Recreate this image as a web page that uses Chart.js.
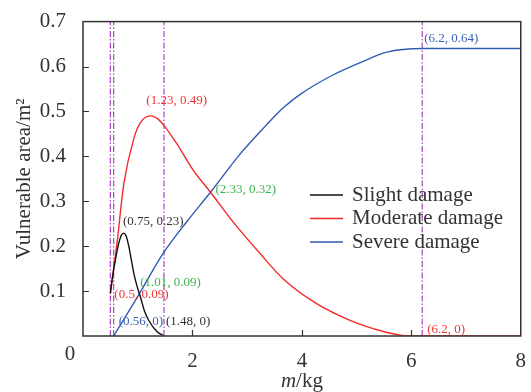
<!DOCTYPE html>
<html>
<head>
<meta charset="utf-8">
<script src="https://cdn.jsdelivr.net/npm/chart.js@4.4.1/dist/chart.umd.min.js"></script>
<style>
  html, body { margin: 0; padding: 0; background: #fff; }
  #wrap { width: 531px; height: 392px; }
</style>
</head>
<body>
<div id="wrap"><canvas id="damageChart" width="531" height="392"></canvas></div>
<script>
// values
const slightX = [0.5, 0.55, 0.59, 0.65, 0.7, 0.745, 0.79, 0.84, 0.93, 0.99, 1.05, 1.12, 1.2, 1.35, 1.48];
const slightY = [0.095, 0.14, 0.168, 0.205, 0.224, 0.229, 0.222, 0.198, 0.139, 0.11, 0.087, 0.057, 0.035, 0.01, 0];

const moderateX = [0.5, 0.62, 0.745, 0.93, 1.05, 1.23, 1.35, 1.47, 1.72, 2.02, 2.33, 2.75, 3.24, 3.66, 4.27, 4.88, 5.49, 5.8, 6.2, 8];
const moderateY = [0.095, 0.205, 0.338, 0.44, 0.475, 0.49, 0.485, 0.47, 0.427, 0.368, 0.32, 0.253, 0.183, 0.127, 0.072, 0.035, 0.01, 0.002, 0, 0];

const severeX = [0.56, 1.01, 1.47, 1.9, 2.33, 2.87, 3.36, 3.66, 3.97, 4.55, 5.19, 5.55, 6.2, 8];
const severeY = [0, 0.09, 0.185, 0.255, 0.32, 0.405, 0.471, 0.508, 0.538, 0.58, 0.615, 0.632, 0.64, 0.64];

const markX = [0.5, 0.56, 1.48, 6.2];   // dash-dot guide lines

const xTicks = [0, 2, 4, 6, 8];
const yTicks = [0, 0.1, 0.2, 0.3, 0.4, 0.5, 0.6, 0.7];

// point labels: [x, y, text, colour, dx, dy]
const notes = [
    [1.23, 0.49, '(1.23, 0.49)', '#ee3535', -4, -15],
    [0.75, 0.23, '(0.75, 0.23)', '#333333', -1, -11],
    [1.01, 0.09, '(1.01, 0.09)', '#3cb54e', 2, -13],
    [0.5, 0.09, '(0.5, 0.09)', '#ee3535', 4, -1],
    [0.56, 0, '(0.56, 0)', '#3a62b4', 5, -14],
    [1.48, 0, '(1.48, 0)', '#333333', 2, -14],
    [2.33, 0.32, '(2.33, 0.32)', '#3cb54e', 5, -3],
    [6.2, 0.64, '(6.2, 0.64)', '#3a62b4', 2, -10],
    [6.2, 0, '(6.2, 0)', '#ee3535', 5, -6]
];

const SERIF = '"Liberation Serif", "Times New Roman", serif';
const AXIS = '#333333';

const toPts = (xs, ys) => xs.map((x, i) => ({ x: x, y: ys[i] }));

const curve = (label, xs, ys, color) => ({
    label: label,
    data: toPts(xs, ys),
    borderColor: color,
    backgroundColor: color,
    borderWidth: 1.4,
    showLine: true,
    pointRadius: 0,
    cubicInterpolationMode: 'monotone',
    isCurve: true
});

const datasets = [
    curve('Slight damage', slightX, slightY, '#111111'),
    curve('Moderate damage', moderateX, moderateY, '#f22a2a'),
    curve('Severe damage', severeX, severeY, '#2f5bb5')
];

markX.forEach(x => {
    datasets.push({
        data: [{ x: x, y: 0 }, { x: x, y: 0.7 }],
        borderColor: '#b24fc4',
        borderWidth: 1.3,
        borderDash: [6, 2, 1.5, 2],
        showLine: true,
        pointRadius: 0
    });
});

// frame, inward ticks, corner "0", x title, labels and legend
const decorations = {
    id: 'decorations',
    afterDatasetsDraw(chart) {
        const ctx = chart.ctx;
        const a = chart.chartArea;
        const xs = chart.scales.x, ys = chart.scales.y;
        ctx.save();

        ctx.strokeStyle = AXIS;
        ctx.lineWidth = 1.5;
        ctx.strokeRect(a.left, a.top, a.right - a.left, a.bottom - a.top);

        ctx.lineWidth = 1.2;
        ctx.beginPath();
        xTicks.slice(1, -1).forEach(v => {
            const px = Math.round(xs.getPixelForValue(v)) + 0.5;
            ctx.moveTo(px, a.bottom);
            ctx.lineTo(px, a.bottom - 6);
        });
        yTicks.slice(1, -1).forEach(v => {
            const py = Math.round(ys.getPixelForValue(v)) + 0.5;
            ctx.moveTo(a.left, py);
            ctx.lineTo(a.left + 6, py);
        });
        ctx.stroke();

        ctx.fillStyle = AXIS;
        ctx.font = '21px ' + SERIF;
        ctx.textAlign = 'center';
        ctx.textBaseline = 'middle';
        ctx.fillText('0', a.left - 13, a.bottom + 18);

        // x title: italic m + /kg
        ctx.font = 'italic 21px ' + SERIF;
        const wm = ctx.measureText('m').width;
        ctx.font = '21px ' + SERIF;
        const wk = ctx.measureText('/kg').width;
        const cx = (a.left + a.right) / 2;
        const sx = cx - (wm + wk) / 2;
        ctx.textAlign = 'left';
        ctx.font = 'italic 21px ' + SERIF;
        ctx.fillText('m', sx, 381);
        ctx.font = '21px ' + SERIF;
        ctx.fillText('/kg', sx + wm, 381);

        // point labels
        ctx.font = '13px ' + SERIF;
        notes.forEach(n => {
            ctx.fillStyle = n[3];
            ctx.fillText(n[2], xs.getPixelForValue(n[0]) + n[4], ys.getPixelForValue(n[1]) + n[5]);
        });

        // legend
        ctx.font = '21px ' + SERIF;
        chart.data.datasets.filter(d => d.isCurve).forEach((d, i) => {
            const y = 195 + i * 23.5;
            ctx.strokeStyle = d.borderColor;
            ctx.lineWidth = 1.4;
            ctx.beginPath();
            ctx.moveTo(310, y);
            ctx.lineTo(343, y);
            ctx.stroke();
            ctx.fillStyle = AXIS;
            ctx.fillText(d.label, 352, y);
        });

        ctx.restore();
    }
};

new Chart(document.getElementById('damageChart'), {
    type: 'scatter',
    data: { datasets: datasets },
    plugins: [decorations],
    options: {
        responsive: false,
        animation: false,
        layout: { padding: { left: 0, right: 10, top: 20, bottom: 0 } },
        plugins: {
            legend: { display: false },
            tooltip: { enabled: false }
        },
        scales: {
            x: {
                type: 'linear',
                min: 0,
                max: 8,
                afterFit: s => { s.height = 56; },
                afterBuildTicks: s => { s.ticks = xTicks.map(v => ({ value: v })); },
                grid: { display: false },
                border: { display: false },
                ticks: {
                    padding: 5,
                    color: AXIS,
                    font: { family: SERIF, size: 21 },
                    callback: v => (v === 0 ? '' : String(v))
                }
            },
            y: {
                min: 0,
                max: 0.7,
                afterFit: s => { s.width = 83; },
                afterBuildTicks: s => { s.ticks = yTicks.map(v => ({ value: v })); },
                grid: { display: false },
                border: { display: false },
                ticks: {
                    padding: 9,
                    color: AXIS,
                    font: { family: SERIF, size: 21 },
                    callback: v => (v === 0 ? '' : v.toFixed(1))
                },
                title: {
                    display: true,
                    text: 'Vulnerable area/m\u00b2',
                    color: AXIS,
                    font: { family: SERIF, size: 21 },
                    padding: { top: 12, bottom: 0 }
                }
            }
        }
    }
});
</script>
</body>
</html>
